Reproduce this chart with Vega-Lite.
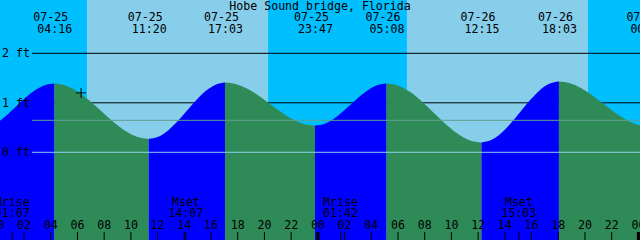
{
  "$schema": "https://vega.github.io/schema/vega-lite/v6.json",
  "width": 640,
  "height": 240,
  "autosize": {"type": "none"},
  "padding": 0,
  "view": {"stroke": null},
  "config": {"text": {"font": "DejaVu Sans Mono", "fontSize": 11.6, "color": "black"}},
  "datasets": {
    "bg": [
      {"h": 0, "h2": 6.72, "period": "night"},
      {"h": 6.72, "h2": 20.27, "period": "day"},
      {"h": 20.27, "h2": 30.67, "period": "night"},
      {"h": 30.67, "h2": 44.22, "period": "day"},
      {"h": 44.22, "h2": 49, "period": "night"}
    ],
    "levels": [{"level": 2}, {"level": 1}],
    "reflines": [{"level": 0, "kind": "datum"}, {"level": 0.646, "kind": "mean"}],
    "ylabels": [{"level": 2, "label": "2 ft"}, {"level": 1, "label": "1 ft"}, {"level": 0, "label": "0 ft"}],
    "tide": [
      {"h": -1.5, "ft": 0.45, "seg": "A", "phase": "rising"},
      {"h": -0.779, "ft": 0.486, "seg": "A", "phase": "rising"},
      {"h": -0.058, "ft": 0.588, "seg": "A", "phase": "rising"},
      {"h": 0.662, "ft": 0.74, "seg": "A", "phase": "rising"},
      {"h": 1.383, "ft": 0.92, "seg": "A", "phase": "rising"},
      {"h": 2.104, "ft": 1.1, "seg": "A", "phase": "rising"},
      {"h": 2.825, "ft": 1.252, "seg": "A", "phase": "rising"},
      {"h": 3.546, "ft": 1.354, "seg": "A", "phase": "rising"},
      {"h": 4.267, "ft": 1.39, "seg": "A", "phase": "rising"},
      {"h": 4.267, "ft": 1.39, "seg": "B", "phase": "falling"},
      {"h": 5.15, "ft": 1.347, "seg": "B", "phase": "falling"},
      {"h": 6.033, "ft": 1.225, "seg": "B", "phase": "falling"},
      {"h": 6.917, "ft": 1.041, "seg": "B", "phase": "falling"},
      {"h": 7.8, "ft": 0.83, "seg": "B", "phase": "falling"},
      {"h": 8.683, "ft": 0.615, "seg": "B", "phase": "falling"},
      {"h": 9.567, "ft": 0.433, "seg": "B", "phase": "falling"},
      {"h": 10.45, "ft": 0.312, "seg": "B", "phase": "falling"},
      {"h": 11.333, "ft": 0.27, "seg": "B", "phase": "falling"},
      {"h": 11.333, "ft": 0.27, "seg": "C", "phase": "rising"},
      {"h": 12.048, "ft": 0.313, "seg": "C", "phase": "rising"},
      {"h": 12.763, "ft": 0.437, "seg": "C", "phase": "rising"},
      {"h": 13.477, "ft": 0.622, "seg": "C", "phase": "rising"},
      {"h": 14.192, "ft": 0.84, "seg": "C", "phase": "rising"},
      {"h": 14.906, "ft": 1.058, "seg": "C", "phase": "rising"},
      {"h": 15.621, "ft": 1.243, "seg": "C", "phase": "rising"},
      {"h": 16.335, "ft": 1.367, "seg": "C", "phase": "rising"},
      {"h": 17.05, "ft": 1.41, "seg": "C", "phase": "rising"},
      {"h": 17.05, "ft": 1.41, "seg": "D", "phase": "falling"},
      {"h": 17.892, "ft": 1.377, "seg": "D", "phase": "falling"},
      {"h": 18.733, "ft": 1.283, "seg": "D", "phase": "falling"},
      {"h": 19.575, "ft": 1.141, "seg": "D", "phase": "falling"},
      {"h": 20.417, "ft": 0.975, "seg": "D", "phase": "falling"},
      {"h": 21.258, "ft": 0.809, "seg": "D", "phase": "falling"},
      {"h": 22.1, "ft": 0.667, "seg": "D", "phase": "falling"},
      {"h": 22.942, "ft": 0.573, "seg": "D", "phase": "falling"},
      {"h": 23.783, "ft": 0.54, "seg": "D", "phase": "falling"},
      {"h": 23.783, "ft": 0.54, "seg": "E", "phase": "rising"},
      {"h": 24.452, "ft": 0.572, "seg": "E", "phase": "rising"},
      {"h": 25.121, "ft": 0.664, "seg": "E", "phase": "rising"},
      {"h": 25.789, "ft": 0.802, "seg": "E", "phase": "rising"},
      {"h": 26.458, "ft": 0.965, "seg": "E", "phase": "rising"},
      {"h": 27.127, "ft": 1.128, "seg": "E", "phase": "rising"},
      {"h": 27.796, "ft": 1.266, "seg": "E", "phase": "rising"},
      {"h": 28.465, "ft": 1.358, "seg": "E", "phase": "rising"},
      {"h": 29.133, "ft": 1.39, "seg": "E", "phase": "rising"},
      {"h": 29.133, "ft": 1.39, "seg": "F", "phase": "falling"},
      {"h": 30.023, "ft": 1.345, "seg": "F", "phase": "falling"},
      {"h": 30.912, "ft": 1.216, "seg": "F", "phase": "falling"},
      {"h": 31.802, "ft": 1.023, "seg": "F", "phase": "falling"},
      {"h": 32.692, "ft": 0.795, "seg": "F", "phase": "falling"},
      {"h": 33.581, "ft": 0.567, "seg": "F", "phase": "falling"},
      {"h": 34.471, "ft": 0.374, "seg": "F", "phase": "falling"},
      {"h": 35.36, "ft": 0.245, "seg": "F", "phase": "falling"},
      {"h": 36.25, "ft": 0.2, "seg": "F", "phase": "falling"},
      {"h": 36.25, "ft": 0.2, "seg": "G", "phase": "rising"},
      {"h": 36.975, "ft": 0.247, "seg": "G", "phase": "rising"},
      {"h": 37.7, "ft": 0.38, "seg": "G", "phase": "rising"},
      {"h": 38.425, "ft": 0.58, "seg": "G", "phase": "rising"},
      {"h": 39.15, "ft": 0.815, "seg": "G", "phase": "rising"},
      {"h": 39.875, "ft": 1.05, "seg": "G", "phase": "rising"},
      {"h": 40.6, "ft": 1.25, "seg": "G", "phase": "rising"},
      {"h": 41.325, "ft": 1.383, "seg": "G", "phase": "rising"},
      {"h": 42.05, "ft": 1.43, "seg": "G", "phase": "rising"},
      {"h": 42.05, "ft": 1.43, "seg": "H", "phase": "falling"},
      {"h": 42.881, "ft": 1.396, "seg": "H", "phase": "falling"},
      {"h": 43.713, "ft": 1.298, "seg": "H", "phase": "falling"},
      {"h": 44.544, "ft": 1.152, "seg": "H", "phase": "falling"},
      {"h": 45.375, "ft": 0.98, "seg": "H", "phase": "falling"},
      {"h": 46.206, "ft": 0.808, "seg": "H", "phase": "falling"},
      {"h": 47.038, "ft": 0.662, "seg": "H", "phase": "falling"},
      {"h": 47.869, "ft": 0.563, "seg": "H", "phase": "falling"},
      {"h": 48.7, "ft": 0.53, "seg": "H", "phase": "falling"}
    ],
    "now": [{"h": 6.27, "ft": 1.2}],
    "extremes": [
      {"h": 4.267, "date": "07-25", "time": "04:16"},
      {"h": 11.333, "date": "07-25", "time": "11:20"},
      {"h": 17.05, "date": "07-25", "time": "17:03"},
      {"h": 23.783, "date": "07-25", "time": "23:47"},
      {"h": 29.133, "date": "07-26", "time": "05:08"},
      {"h": 36.25, "date": "07-26", "time": "12:15"},
      {"h": 42.05, "date": "07-26", "time": "18:03"},
      {"h": 48.67, "date": "07-27", "time": "00:40"}
    ],
    "hours": [
      {"h": 0, "label": "00"}, {"h": 2, "label": "02"}, {"h": 4, "label": "04"}, {"h": 6, "label": "06"},
      {"h": 8, "label": "08"}, {"h": 10, "label": "10"}, {"h": 12, "label": "12"}, {"h": 14, "label": "14"},
      {"h": 16, "label": "16"}, {"h": 18, "label": "18"}, {"h": 20, "label": "20"}, {"h": 22, "label": "22"},
      {"h": 24, "label": "00"}, {"h": 26, "label": "02"}, {"h": 28, "label": "04"}, {"h": 30, "label": "06"},
      {"h": 32, "label": "08"}, {"h": 34, "label": "10"}, {"h": 36, "label": "12"}, {"h": 38, "label": "14"},
      {"h": 40, "label": "16"}, {"h": 42, "label": "18"}, {"h": 44, "label": "20"}, {"h": 46, "label": "22"},
      {"h": 48, "label": "00"}
    ],
    "days": [{"h": 0}, {"h": 24}, {"h": 48}],
    "moon": [
      {"h": 1.117, "event": "Mrise", "time": "01:07"},
      {"h": 14.117, "event": "Mset", "time": "14:07"},
      {"h": 25.7, "event": "Mrise", "time": "01:42"},
      {"h": 39.05, "event": "Mset", "time": "15:03"}
    ],
    "title": [{"h": 24.16, "label": "Hobe Sound bridge, Florida"}]
  },
  "layer": [
    {
      "data": {"name": "bg"},
      "mark": {"type": "rect"},
      "encoding": {
        "x": {"field": "h", "type": "quantitative", "scale": {"domain": [0.2, 48.12], "nice": false, "zero": false}, "axis": null},
        "x2": {"field": "h2"},
        "fill": {"field": "period", "type": "nominal", "scale": {"domain": ["night", "day"], "range": ["#00BFFF", "#87CEEB"]}, "legend": null}
      }
    },
    {
      "data": {"name": "levels"},
      "mark": {"type": "rule", "color": "black", "strokeWidth": 1},
      "encoding": {
        "x": {"datum": 2.6, "type": "quantitative", "scale": {"domain": [0.2, 48.12], "nice": false, "zero": false}, "axis": null},
        "x2": {"datum": 50},
        "y": {"field": "level", "type": "quantitative", "scale": {"domain": [-1.772, 3.077], "nice": false, "zero": false}, "axis": null}
      }
    },
    {
      "data": {"name": "tide"},
      "mark": {"type": "area", "interpolate": "monotone", "clip": true},
      "encoding": {
        "x": {"field": "h", "type": "quantitative", "scale": {"domain": [0.2, 48.12], "nice": false, "zero": false}, "axis": null},
        "y": {"field": "ft", "type": "quantitative", "stack": null, "scale": {"domain": [-1.772, 3.077], "nice": false, "zero": false}, "axis": null},
        "y2": {"datum": -1.772},
        "color": {"field": "phase", "type": "nominal", "scale": {"domain": ["rising", "falling"], "range": ["#0000FF", "#2E8B57"]}, "legend": null},
        "detail": {"field": "seg"}
      }
    },
    {
      "data": {"name": "reflines"},
      "mark": {"type": "rule", "strokeWidth": 1},
      "encoding": {
        "x": {"datum": 2.6, "type": "quantitative", "scale": {"domain": [0.2, 48.12], "nice": false, "zero": false}, "axis": null},
        "x2": {"datum": 50},
        "y": {"field": "level", "type": "quantitative", "scale": {"domain": [-1.772, 3.077], "nice": false, "zero": false}, "axis": null},
        "stroke": {"field": "kind", "type": "nominal", "scale": {"domain": ["datum", "mean"], "range": ["#8FD0EA", "#5FA08C"]}, "legend": null}
      }
    },
    {
      "data": {"name": "now"},
      "mark": {"type": "point", "shape": "M-1,0H1M0,-1V1", "filled": false, "size": 100, "stroke": "black", "strokeWidth": 1, "opacity": 1},
      "encoding": {
        "x": {"field": "h", "type": "quantitative", "scale": {"domain": [0.2, 48.12], "nice": false, "zero": false}, "axis": null},
        "y": {"field": "ft", "type": "quantitative", "scale": {"domain": [-1.772, 3.077], "nice": false, "zero": false}, "axis": null}
      }
    },
    {
      "data": {"name": "hours"},
      "mark": {"type": "rule", "color": "black", "strokeWidth": 1},
      "encoding": {
        "x": {"field": "h", "type": "quantitative", "scale": {"domain": [0.2, 48.12], "nice": false, "zero": false}, "axis": null},
        "y": {"datum": -1.61, "type": "quantitative", "scale": {"domain": [-1.772, 3.077], "nice": false, "zero": false}, "axis": null},
        "y2": {"datum": -1.8}
      }
    },
    {
      "data": {"name": "moon"},
      "mark": {"type": "rule", "color": "black", "strokeWidth": 1},
      "encoding": {
        "x": {"field": "h", "type": "quantitative", "scale": {"domain": [0.2, 48.12], "nice": false, "zero": false}, "axis": null},
        "y": {"datum": -1.61, "type": "quantitative", "scale": {"domain": [-1.772, 3.077], "nice": false, "zero": false}, "axis": null},
        "y2": {"datum": -1.8}
      }
    },
    {
      "data": {"name": "days"},
      "mark": {"type": "rule", "color": "black", "strokeWidth": 3},
      "encoding": {
        "x": {"field": "h", "type": "quantitative", "scale": {"domain": [0.2, 48.12], "nice": false, "zero": false}, "axis": null},
        "y": {"datum": -1.61, "type": "quantitative", "scale": {"domain": [-1.772, 3.077], "nice": false, "zero": false}, "axis": null},
        "y2": {"datum": -1.8}
      }
    },
    {
      "data": {"name": "hours"},
      "mark": {"type": "text", "align": "center", "baseline": "alphabetic"},
      "encoding": {
        "x": {"field": "h", "type": "quantitative", "scale": {"domain": [0.2, 48.12], "nice": false, "zero": false}, "axis": null},
        "y": {"datum": -1.549, "type": "quantitative", "scale": {"domain": [-1.772, 3.077], "nice": false, "zero": false}, "axis": null},
        "text": {"field": "label"}
      }
    },
    {
      "data": {"name": "moon"},
      "mark": {"type": "text", "align": "center", "baseline": "alphabetic"},
      "encoding": {
        "x": {"field": "h", "type": "quantitative", "scale": {"domain": [0.2, 48.12], "nice": false, "zero": false}, "axis": null},
        "y": {"datum": -1.085, "type": "quantitative", "scale": {"domain": [-1.772, 3.077], "nice": false, "zero": false}, "axis": null},
        "text": {"field": "event"}
      }
    },
    {
      "data": {"name": "moon"},
      "mark": {"type": "text", "align": "center", "baseline": "alphabetic"},
      "encoding": {
        "x": {"field": "h", "type": "quantitative", "scale": {"domain": [0.2, 48.12], "nice": false, "zero": false}, "axis": null},
        "y": {"datum": -1.31, "type": "quantitative", "scale": {"domain": [-1.772, 3.077], "nice": false, "zero": false}, "axis": null},
        "text": {"field": "time"}
      }
    },
    {
      "data": {"name": "extremes"},
      "mark": {"type": "text", "align": "center", "baseline": "alphabetic", "dx": -3.5},
      "encoding": {
        "x": {"field": "h", "type": "quantitative", "scale": {"domain": [0.2, 48.12], "nice": false, "zero": false}, "axis": null},
        "y": {"datum": 2.653, "type": "quantitative", "scale": {"domain": [-1.772, 3.077], "nice": false, "zero": false}, "axis": null},
        "text": {"field": "date"}
      }
    },
    {
      "data": {"name": "extremes"},
      "mark": {"type": "text", "align": "center", "baseline": "alphabetic", "dx": 0.5},
      "encoding": {
        "x": {"field": "h", "type": "quantitative", "scale": {"domain": [0.2, 48.12], "nice": false, "zero": false}, "axis": null},
        "y": {"datum": 2.41, "type": "quantitative", "scale": {"domain": [-1.772, 3.077], "nice": false, "zero": false}, "axis": null},
        "text": {"field": "time"}
      }
    },
    {
      "data": {"name": "title"},
      "mark": {"type": "text", "align": "center", "baseline": "alphabetic"},
      "encoding": {
        "x": {"field": "h", "type": "quantitative", "scale": {"domain": [0.2, 48.12], "nice": false, "zero": false}, "axis": null},
        "y": {"datum": 2.875, "type": "quantitative", "scale": {"domain": [-1.772, 3.077], "nice": false, "zero": false}, "axis": null},
        "text": {"field": "label"}
      }
    },
    {
      "data": {"name": "ylabels"},
      "mark": {"type": "text", "align": "left", "baseline": "alphabetic", "dy": 4, "dx": 2},
      "encoding": {
        "x": {"datum": 0.2, "type": "quantitative", "scale": {"domain": [0.2, 48.12], "nice": false, "zero": false}, "axis": null},
        "y": {"field": "level", "type": "quantitative", "scale": {"domain": [-1.772, 3.077], "nice": false, "zero": false}, "axis": null},
        "text": {"field": "label"}
      }
    }
  ]
}
